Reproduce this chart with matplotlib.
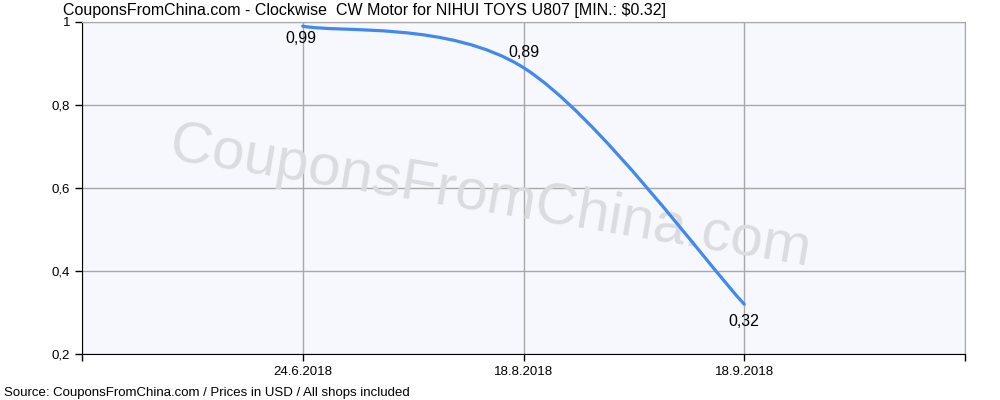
import numpy as np
import matplotlib.pyplot as plt
from matplotlib.path import Path
from matplotlib.patches import PathPatch

# data
dates = ['24.6.2018', '18.8.2018', '18.9.2018']
prices = [0.99, 0.89, 0.32]
y_ticks = [0.2, 0.4, 0.6, 0.8, 1.0]
y_labels = ['0,2', '0,4', '0,6', '0,8', '1']
title = 'CouponsFromChina.com - Clockwise  CW Motor for NIHUI TOYS U807 [MIN.: $0.32]'
source = 'Source: CouponsFromChina.com / Prices in USD / All shops included'

plt.rcParams['font.family'] = ['Liberation Sans', 'DejaVu Sans']

fig = plt.figure(figsize=(10, 4), dpi=100)
ax = fig.add_axes([0.082, 0.115, 0.883, 0.83])
ax.set_facecolor('#f7f8fe')

x = np.arange(1, len(dates) + 1)
y = np.array(prices)

# cardinal spline (tension 0.5) like the original smooth line
pts = np.column_stack([x, y]).astype(float)
t = 0.5
verts = [pts[0]]
codes = [Path.MOVETO]
n = len(pts)
for i in range(n - 1):
    p_prev = pts[i - 1] if i > 0 else pts[i]
    p_next2 = pts[i + 2] if i + 2 < n else pts[i + 1]
    c1 = pts[i] + t / 3 * (pts[i + 1] - p_prev)
    c2 = pts[i + 1] - t / 3 * (p_next2 - pts[i])
    verts += [c1, c2, pts[i + 1]]
    codes += [Path.CURVE4] * 3
ax.add_patch(PathPatch(Path(verts, codes), fill=False, edgecolor='#4189ee',
                       lw=2.3, capstyle='round', zorder=3))

# value labels
offsets = [(-2, -12), (0, 15), (0, -17)]
for xi, yi, (dx, dy) in zip(x, y, offsets):
    ax.annotate(f'{yi:.2f}'.replace('.', ','), (xi, yi), xytext=(dx, dy),
                textcoords='offset pixels', ha='center', va='center',
                fontsize=11.5, color='black', zorder=4)

# watermark
ax.text(0.463, 0.47, 'CouponsFromChina.com', transform=ax.transAxes,
        fontsize=42, color='#dcdce0', rotation=-9.5, ha='center', va='center',
        zorder=1)

ax.set_xlim(0, len(dates) + 1)
ax.set_ylim(0.2, 1.0)
ax.set_xticks(range(0, len(dates) + 2))
ax.set_xticklabels([''] + dates + [''])
ax.set_yticks(y_ticks)
ax.set_yticklabels(y_labels)
ax.tick_params(direction='out', length=5, width=1, labelsize=9.5, colors='black')
ax.grid(True, color='#a8a8a8', lw=1, zorder=0)
ax.set_axisbelow(True)
for s in ['top', 'right']:
    ax.spines[s].set_color('#a8a8a8')
for s in ['left', 'bottom']:
    ax.spines[s].set_color('black')

fig.text(0.063, 0.975, title, fontsize=11.5, ha='left', va='center')
fig.text(0.004, 0.017, source, fontsize=9.5, ha='left', va='center')

fig.savefig('out.png', dpi=100)
